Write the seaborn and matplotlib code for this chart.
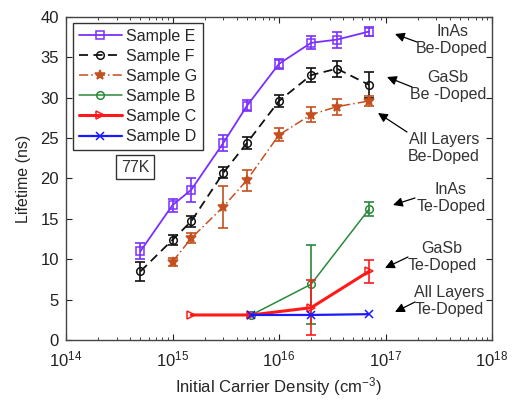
import matplotlib
matplotlib.use("Agg")
import matplotlib.pyplot as plt
import seaborn as sns
import numpy as np

# Carrier-density sweep (cm^-3) and measured lifetimes (ns) at 77 K
E_x = [5e14, 1e15, 1.5e15, 3e15, 5e15, 1e16, 2e16, 3.5e16, 7e16]
E_y = [11.0, 16.7, 18.6, 24.4, 29.0, 34.2, 36.8, 37.2, 38.2]
E_err = [1.0, 0.8, 1.5, 1.0, 0.7, 0.6, 0.8, 1.0, 0.6]

F_x = [5e14, 1e15, 1.5e15, 3e15, 5e15, 1e16, 2e16, 3.5e16, 7e16]
F_y = [8.5, 12.4, 14.7, 20.7, 24.4, 29.6, 32.8, 33.6, 31.6]
F_err = [1.2, 0.6, 0.7, 0.7, 0.8, 0.7, 0.9, 1.0, 1.6]

G_x = [1e15, 1.5e15, 3e15, 5e15, 1e16, 2e16, 3.5e16, 7e16]
G_y = [9.7, 12.6, 16.5, 19.8, 25.4, 27.9, 28.9, 29.6]
G_err = [0.5, 0.6, 2.6, 1.3, 0.8, 0.9, 1.0, 0.6]

B_x = [5.5e15, 2e16, 7e16]
B_y = [3.1, 6.9, 16.2]
B_err = [0.0, 4.9, 0.9]

C_x = [1.5e15, 5.5e15, 2e16, 7e16]
C_y = [3.1, 3.1, 4.0, 8.5]
C_err = [0.0, 0.0, 3.4, 1.4]

D_x = [5.5e15, 2e16, 7e16]
D_y = [3.1, 3.1, 3.2]
D_err = [0.0, 0.0, 0.0]

labels = ["Sample E", "Sample F", "Sample G", "Sample B", "Sample C", "Sample D"]
y_ticks = [0, 5, 10, 15, 20, 25, 30, 35, 40]
x_ticks = [1e14, 1e15, 1e16, 1e17, 1e18]

annotations = [
    ("InAs\nBe-Doped", (452, 40), (395, 34), (417, 42)),
    ("GaSb\nBe -Doped", (448, 86), (387, 77), (412, 87)),
    ("All Layers\nBe-Doped", (444, 148), (378, 113), (407, 132)),
    ("InAs\nTe-Doped", (451, 198), (393, 205), (415, 198)),
    ("GaSb\nTe-Doped", (442, 257), (385, 268), (408, 257)),
    ("All Layers\nTe-Doped", (449, 301), (395, 312), (415, 302)),
]

sns.set_style("ticks")
plt.rcParams["font.family"] = ["Liberation Sans", "DejaVu Sans"]
plt.rcParams["mathtext.fontset"] = "custom"
plt.rcParams["mathtext.rm"] = "Liberation Sans"
plt.rcParams["mathtext.it"] = "Liberation Sans:italic"

W, H = 512, 401
fig = plt.figure(figsize=(W / 100, H / 100), dpi=100)
L, R, T, Bt = 66, 492, 17, 340
ax = fig.add_axes([L / W, (H - Bt) / H, (R - L) / W, (Bt - T) / H])
ax.set_xscale("log")


def frac(px, py):
    return ((px - L) / (R - L), (Bt - py) / (Bt - T))


series = [
    (E_x, E_y, E_err, "#7b2fff", "-", "s", 1.3, True),
    (F_x, F_y, F_err, "#111111", (0, (5, 3)), "o", 1.3, True),
    (G_x, G_y, G_err, "#c4501f", (0, (6, 2, 1, 2)), "*", 1.1, False),
    (B_x, B_y, B_err, "#2a8a3a", "-", "o", 1.1, True),
    (C_x, C_y, C_err, "#ff1a1a", "-", ">", 2.2, True),
    (D_x, D_y, D_err, "#1a1aff", "-", "x", 1.6, False),
]

for (xs, ys, errs, col, ls, mk, lw, hollow), lab in zip(series, labels):
    kw = dict(mfc="none") if hollow else {}
    sns.lineplot(x=xs, y=ys, ax=ax, color=col, linestyle=ls, linewidth=lw,
                 marker=mk, markersize=5.5 if mk != "*" else 7,
                 markeredgecolor=col, markeredgewidth=1.1,
                 label=lab, errorbar=None, sort=False, **kw)
    e = np.asarray(errs)
    if e.max() > 0:
        mask = e > 0
        ax.errorbar(np.asarray(xs)[mask], np.asarray(ys)[mask], yerr=e[mask],
                    fmt="none", ecolor=col, elinewidth=1.2, capsize=3.6,
                    capthick=1.2)

ax.set_xlim(1e14, 1e18)
ax.set_ylim(0, 40)
ax.set_xticks(x_ticks)
ax.set_yticks(y_ticks)
ax.tick_params(which="both", direction="in", top=True, right=True,
               labelsize=12, colors="#222222")
ax.tick_params(axis="x", which="major", pad=7)
ax.tick_params(axis="y", which="major", pad=5)
ax.tick_params(which="major", length=4, width=0.8)
ax.tick_params(which="minor", length=2, width=0.6)
for s in ax.spines.values():
    s.set_color("#444444")
    s.set_linewidth(1.0)

ax.set_xlabel("Initial Carrier Density (cm$^{\\mathdefault{-3}}$)",
              fontsize=12, labelpad=4)
ax.set_ylabel("Lifetime (ns)", fontsize=11.5, labelpad=7)

leg = ax.legend(loc="upper left", bbox_to_anchor=frac(73, 23),
                borderaxespad=0, fancybox=False, framealpha=1,
                edgecolor="#333333", fontsize=11.5, handlelength=2.7,
                handletextpad=0.25, labelspacing=0.32, borderpad=0.35)
leg.get_frame().set_linewidth(1.0)

ax.text(*frac(135, 167), "77K", transform=ax.transAxes, fontsize=11.5,
        ha="center", va="center", color="#333333",
        bbox=dict(boxstyle="square,pad=0.3", fc="white", ec="#333333", lw=1))

for text, tpos, head, tail in annotations:
    ax.text(*frac(*tpos), text, transform=ax.transAxes, ha="center",
            va="center", fontsize=11.5, color="#333333", linespacing=1.1)
    ax.annotate("", xy=frac(*head), xycoords="axes fraction",
                xytext=frac(*tail), textcoords="axes fraction",
                arrowprops=dict(arrowstyle="-|>", color="black", lw=0.9,
                                mutation_scale=14, shrinkA=0, shrinkB=0))

fig.savefig("out.png", dpi=100, facecolor="white")
